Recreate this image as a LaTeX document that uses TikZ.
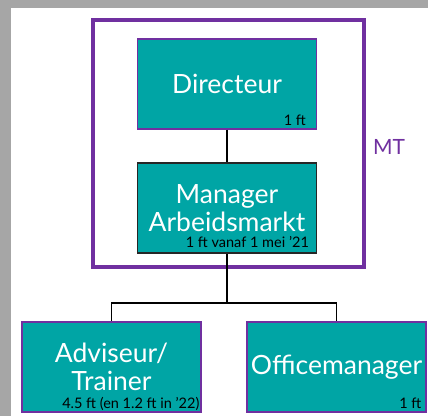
\documentclass[tikz,border=0pt]{standalone}
\usepackage{fontspec}
\setmainfont{Lato}
\definecolor{boxteal}{HTML}{00A5A5}
\definecolor{mtpurple}{HTML}{7030A0}
\definecolor{bggray}{HTML}{A6A6A6}
\tikzstyle{post}=[rectangle,fill=boxteal,draw=mtpurple,line width=1.2pt,minimum width=179pt,minimum height=90pt,inner sep=0pt,text=white,align=center,font=\fontsize{26.5}{28}\selectfont]
\tikzstyle{fte}=[anchor=base east,inner sep=0pt,font=\fontsize{14.5}{16}\selectfont]
\tikzstyle{line}=[line width=1.7pt]

\begin{document}
\begin{tikzpicture}[x=1pt,y=1pt]
\useasboundingbox (0, 0) rectangle (428, 416);
\fill[bggray] (0, 0) rectangle (428, 416);
\fill[white] (11, 0) rectangle (428, 408);

\draw[mtpurple, line width=3.5pt] (93, 396) rectangle (364, 149);
\node[text=mtpurple, font=\fontsize{21}{24}\selectfont] at (389, 269) (mt) {MT};

\node[post] at (227, 332) (dir) {Directeur};
\node[post, draw=black!85] at (227, 208) (man) {Manager\\Arbeidsmarkt};
\node[post] at (111.5, 49) (adv) {Adviseur/\\Trainer};
\node[post] at (336.5, 49) (off) {Officemanager};
\coordinate (split) at (227, 113);

\node[fte] at ([shift={(-11, 4)}]dir.south east) (dirfte) {1 ft};
\node[fte] at ([shift={(-8, 6)}]man.south east) (manfte) {1 ft vanaf 1 mei ’21};
\node[fte] at ([shift={(-2, 4)}]adv.south east) (advfte) {4.5 ft (en 1.2 ft in ’22)};
\node[fte] at ([shift={(-5, 4)}]off.south east) (offfte) {1 ft};

\draw[line] (dir) -- (man);
\draw[line] (man) -- (split);
\draw[line] (split) -| (adv);
\draw[line] (split) -| (off);
\end{tikzpicture}
\end{document}
